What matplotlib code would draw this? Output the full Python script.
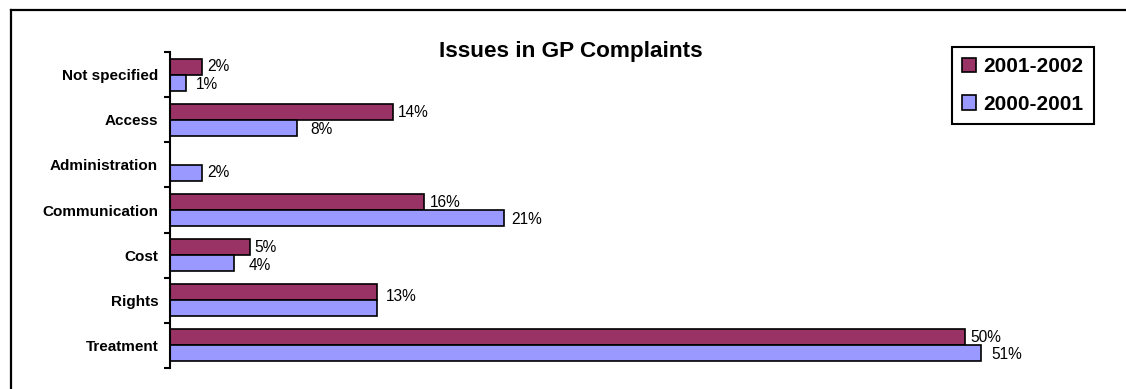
import matplotlib
matplotlib.use("Agg")
import matplotlib.pyplot as plt
from matplotlib.lines import Line2D
import numpy as np

plt.rcParams['font.family'] = ['Liberation Sans', 'DejaVu Sans']

categories = ['Not specified', 'Access', 'Administration', 'Communication',
              'Cost', 'Rights', 'Treatment']
series_names = ['2001-2002', '2000-2001']
values_2001_2002 = [2, 14, 0, 16, 5, 13, 50]
values_2000_2001 = [1, 8, 2, 21, 4, 13, 51]
colors = ['#993366', '#9999FF']
# value labels that are left off (the duplicate on Rights)
skip_labels = {('2000-2001', 'Rights')}

# label placement (pixels right of bar end, pixels below bar centre)
label_dx = {
    '2001-2002': [5, 5, 5, 5, 5, 9, 5],
    '2000-2001': [9.5, 13, 5, 7, 15, 10, 10],
}
label_dy = {
    '2001-2002': [0, 0, 0, 0, 0, 4.5, 0],
    '2000-2001': [1.5, 2, 0, 1.5, 2.5, 0, 1.5],
}

W, H = 1126, 389
fig = plt.figure(figsize=(W / 100, H / 100), dpi=100)

left_px, top_px, bottom_px = 170, 52.3, 367.7
xmax = 55
px_per_unit = 15.9
ax = fig.add_axes([left_px / W, (H - bottom_px) / H,
                   xmax * px_per_unit / W, (bottom_px - top_px) / H])

y = np.arange(len(categories))
bar_h = 0.35
offsets = [-bar_h / 2, bar_h / 2]
px2pt = 72 / 100

for name, vals, col, off in zip(series_names,
                                [values_2001_2002, values_2000_2001],
                                colors, offsets):
    ax.barh(y + off, vals, height=bar_h, color=col, edgecolor='black',
            linewidth=1.2, label=name)
    for i, (cat, yy, v) in enumerate(zip(categories, y + off, vals)):
        if v == 0 or (name, cat) in skip_labels:
            continue
        ax.annotate(f'{v}%', xy=(v, yy),
                    xytext=(label_dx[name][i] * px2pt,
                            -label_dy[name][i] * px2pt),
                    textcoords='offset points', va='center', ha='left',
                    fontsize=11.2, color='black')

ax.set_xlim(0, xmax)
ax.set_ylim(len(categories) - 0.5, -0.5)

for s in ['top', 'right', 'bottom']:
    ax.spines[s].set_visible(False)
ax.spines['left'].set_linewidth(1.5)
ax.spines['left'].set_color('black')

ax.set_xticks([])
ax.set_yticks(y)
ax.set_yticklabels(categories, fontsize=11, fontweight='bold')
ax.tick_params(axis='y', which='major', length=0, pad=8.5)
ax.set_yticks(np.arange(len(categories) + 1) - 0.5, minor=True)
ax.tick_params(axis='y', which='minor', length=4, width=1.5, direction='out')

fig.text(571 / W, 1 - 56.5 / H, 'Issues in GP Complaints', ha='center',
         va='baseline', fontsize=16.2, fontweight='bold')

leg = fig.legend(loc='upper left', bbox_to_anchor=(951.7 / W, 1 - 46.7 / H),
                 prop={'size': 15, 'weight': 'bold'}, frameon=True,
                 fancybox=False, framealpha=1, edgecolor='black',
                 handlelength=0.68, handleheight=0.68, handletextpad=0.33,
                 labelspacing=0.9, borderpad=0.5, borderaxespad=0)
leg.get_frame().set_linewidth(1.5)
for h in leg.legend_handles:
    h.set_linewidth(1.2)

# outer chart frame: top and left edges
fig.add_artist(Line2D([11 / W, 1.0], [1 - 10 / H, 1 - 10 / H],
                      transform=fig.transFigure, color='black', linewidth=1.6))
fig.add_artist(Line2D([11 / W, 11 / W], [0, 1 - 10 / H],
                      transform=fig.transFigure, color='black', linewidth=1.6))

fig.savefig('out.png', dpi=100, facecolor='white')
